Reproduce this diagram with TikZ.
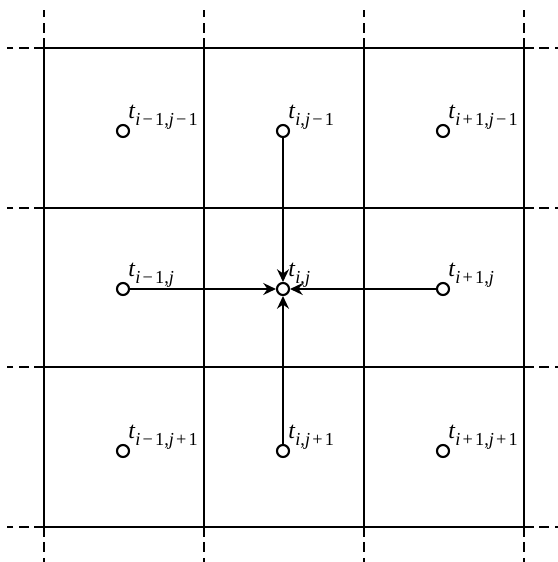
\documentclass[tikz,border=0pt]{standalone}
\usepackage{fontspec}
\setmainfont{Liberation Serif}
\usetikzlibrary{arrows.meta}
% t with a lowered index, set as text
\newcommand{\tidx}[1]{\textit{t}\raisebox{-5.5pt}{\fontsize{13}{14}\selectfont #1}}
\newcommand{\mn}{\hspace{0.12em}−\hspace{0.12em}}
\newcommand{\pl}{\hspace{0.12em}+\hspace{0.12em}}

\begin{document}
\begin{tikzpicture}[x=0.025cm,y=-0.025cm,
  gridline/.style={line width=2.1pt},
  gridext/.style={line width=1.4pt,dash pattern=on 7pt off 4pt},
  cell/.style={circle,draw,line width=1.5pt,minimum size=0.3cm,inner sep=0pt},
  flux/.style={line width=1.2pt,-{Stealth[length=9pt,width=8.5pt]}},
  lbl/.style={anchor=base west,inner sep=0pt,font=\fontsize{17}{19}\selectfont}]
  \useasboundingbox (0,0) rectangle (558,562);
  % grid with dashed continuation
  \foreach \x in {44,204,364,524} {
    \draw[gridline] (\x,48) -- (\x,527);
    \draw[gridext] (\x,48) -- (\x,10);
    \draw[gridext] (\x,527) -- (\x,562);
  }
  \foreach \y in {48,208,367,527} {
    \draw[gridline] (44,\y) -- (524,\y);
    \draw[gridext] (44,\y) -- (7,\y);
    \draw[gridext] (524,\y) -- (558,\y);
  }
  % cell centres
  \foreach \x/\ci/\n in {123/\textit{i}\mn1/a,283/\textit{i}/b,443/\textit{i}\pl1/c}
    \foreach \y/\cj/\m in {131/\textit{j}\mn1/1,289/\textit{j}/2,451/\textit{j}\pl1/3} {
      \node[cell] (\n\m) at (\x,\y) {};
      \node[lbl] (l\n\m) at (\x+5,\y-13) {\tidx{\ci,\cj}};
    }
  % fluxes into the centre cell
  \draw[flux] (a2) -- (b2);
  \draw[flux] (c2) -- (b2);
  \draw[flux] (b1) -- (b2);
  \draw[flux] (b3) -- (b2);
\end{tikzpicture}
\end{document}
